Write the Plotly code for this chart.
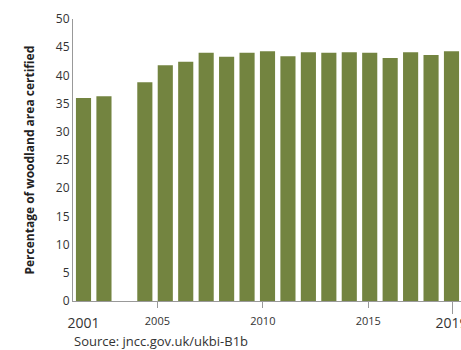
import plotly.graph_objects as go

# Woodland area certified (%), UK - no value for 2003
anos = [2001, 2002, 2004, 2005, 2006, 2007, 2008, 2009, 2010,
        2011, 2012, 2013, 2014, 2015, 2016, 2017, 2018, 2019]
percentual = [36.0, 36.3, 38.8, 41.8, 42.4, 44.0, 43.3, 44.0, 44.3,
              43.4, 44.1, 44.0, 44.1, 44.0, 43.1, 44.1, 43.6, 44.3]

anos_marcados = [2005, 2010, 2015]
anos_extremos = [2001, 2019]

verde = '#738440'
cinza = '#999999'
texto = '#333333'

fig = go.Figure()

fig.add_trace(go.Bar(
    x=anos,
    y=percentual,
    width=0.74,
    marker=dict(color=verde, line=dict(width=0)),
    hoverinfo='x+y',
    showlegend=False
))

# traces vazios so para os eixos de tempo aparecerem
fig.add_trace(go.Scatter(x=[], y=[], xaxis='x2', yaxis='y',
                         showlegend=False, hoverinfo='skip'))
fig.add_trace(go.Scatter(x=[], y=[], xaxis='x3', yaxis='y',
                         showlegend=False, hoverinfo='skip'))

fig.update_layout(
    width=461,
    height=350,
    margin=dict(l=73, r=0, t=19, b=49),
    paper_bgcolor='white',
    plot_bgcolor='white',
    font=dict(family='Open Sans', color=texto),
    # eixo das barras (so mostra os anos das pontas)
    xaxis=dict(
        range=[2000.486, 2019.465],
        tickvals=anos_extremos,
        ticktext=[str(a) for a in anos_extremos],
        tickfont=dict(size=14, color=texto),
        ticks='',
        ticklabelstandoff=9,
        ticklabeloverflow='allow',
        automargin=False,
        showline=True,
        linecolor=cinza,
        linewidth=1,
        showgrid=False,
        zeroline=False,
        fixedrange=True
    ),
    # eixo de tempo com as marcas de 5 em 5 anos
    xaxis2=dict(
        overlaying='x',
        anchor='y',
        side='bottom',
        range=[2001, 2019.394],
        tickvals=anos_marcados,
        ticktext=[str(a) for a in anos_marcados],
        tickfont=dict(size=11, color=texto),
        ticks='outside',
        ticklen=6,
        tickcolor=cinza,
        ticklabelstandoff=4,
        automargin=False,
        showline=False,
        showgrid=False,
        zeroline=False
    ),
    xaxis3=dict(
        overlaying='x',
        anchor='y',
        side='bottom',
        range=[2001, 2019.394],
        tickvals=[2019],
        ticks='outside',
        ticklen=12,
        tickcolor=cinza,
        showticklabels=False,
        automargin=False,
        showline=False,
        showgrid=False,
        zeroline=False
    ),
    yaxis=dict(
        range=[0, 50],
        dtick=5,
        tickfont=dict(size=12, color=texto),
        ticks='',
        automargin=False,
        showline=True,
        linecolor=cinza,
        linewidth=1,
        showgrid=False,
        zeroline=False,
        fixedrange=True
    ),
    annotations=[
        dict(
            text='<b>Percentage of woodland area certified</b>',
            textangle=-90,
            xref='paper', yref='paper',
            x=-44.5 / 388, y=0.5,
            xanchor='center', yanchor='middle',
            showarrow=False,
            font=dict(size=12, color='#222222')
        ),
        dict(
            text='Source: jncc.gov.uk/ukbi-B1b',
            xref='paper', yref='paper',
            x=-1.5 / 388, y=-40 / 282,
            xanchor='left', yanchor='middle',
            showarrow=False,
            font=dict(size=13, color=texto)
        )
    ]
)

# tira a margem padrao do body para o grafico ocupar a janela toda
fig.write_html("out.html", config={'displayModeBar': False},
               post_script="document.body.style.margin='0';")
